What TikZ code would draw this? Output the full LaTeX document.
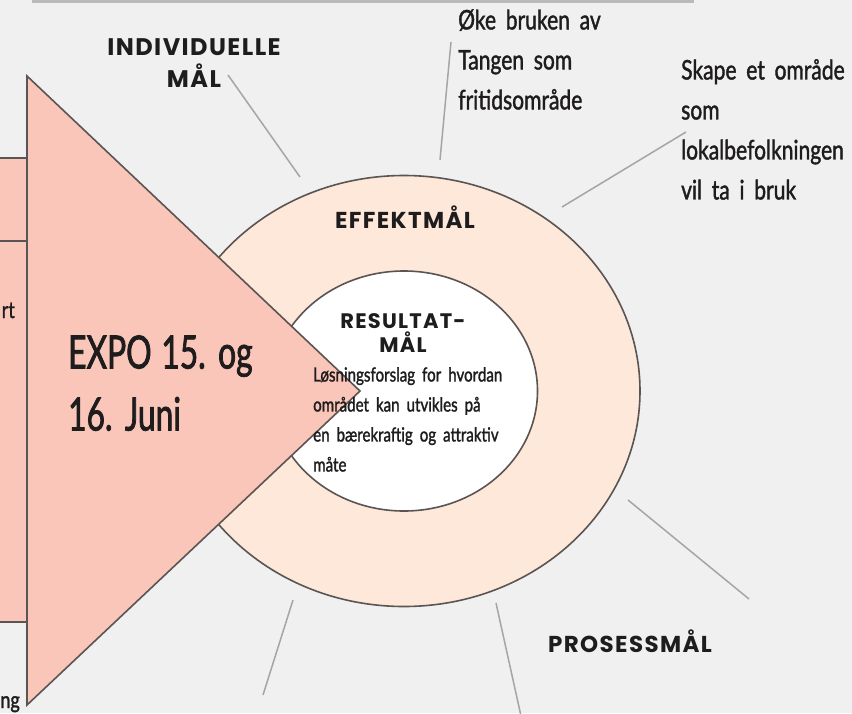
\documentclass[tikz,border=0pt]{standalone}
\usepackage{fontspec}
\usetikzlibrary{positioning}
\newfontfamily\gillfont[FakeStretch=0.78,WordSpace=1.8,FakeBold=1.4]{Lato}
\newfontfamily\expofont[FakeStretch=0.69,WordSpace=1.2,FakeBold=1.6]{Lato}
\newfontfamily\capsfont[LetterSpace=6]{Poppins}

\definecolor{bggray}{RGB}{240,240,240}
\definecolor{bargray}{RGB}{186,186,186}
\definecolor{salmon}{RGB}{249,198,185}
\definecolor{peach}{RGB}{253,232,217}
\definecolor{edgegray}{RGB}{90,84,82}
\definecolor{leadgray}{RGB}{165,165,165}
\definecolor{ink}{RGB}{30,28,28}

\begin{document}
\begin{tikzpicture}[x=1pt, y=-1pt,
    edge/.style={draw=edgegray, line width=1.6pt},
    leader/.style={draw=leadgray, line width=1.5pt},
    caps/.style={font=\capsfont\bfseries\fontsize{23}{32}\selectfont, text=ink, align=center, inner sep=0pt},
    body/.style={font=\gillfont\fontsize{27}{40}\selectfont, text=ink, align=left, inner sep=0pt},
    small/.style={font=\gillfont\fontsize{19.4}{30}\selectfont, text=ink, align=left, inner sep=0pt}]

    %background
    \fill [bggray] (0,0) rectangle (852,713);
    \useasboundingbox (0,0) rectangle (852,713);
    \fill [bargray] (32,-4) rectangle (694,2.5);

    %boxes on the left
    \filldraw [fill=salmon, edge] (-3,158) rectangle (27,622);
    \draw [edge] (-3,241) -- (27,241);

    %rings
    \filldraw [fill=peach, edge] (404,391) ellipse [x radius=236, y radius=215.5];
    \filldraw [fill=white, edge] (404,391) ellipse [x radius=133.5, y radius=120];

    %arrow
    \filldraw [fill=salmon, edge] (27,76) -- (360,391) -- (27,705) -- cycle;

    %nodes
    \node [caps, font=\capsfont\bfseries\fontsize{24}{32}\selectfont] (indiv) at (194,63) {INDIVIDUELLE\\MÅL};
    \node [caps] (effekt) at (405,217.5) {EFFEKTMÅL};
    \node [caps, font=\capsfont\bfseries\fontsize{21}{24}\selectfont] (resultat) at (403,333) {RESULTAT-\\MÅL};
    \node [caps] (prosess) at (630,641) {PROSESSMÅL};

    \node [body, anchor=north west] (oke) at (458,9) {Øke bruken av\\Tangen som\\fritidsområde};
    \node [body, anchor=north west] (skape) at (681,59) {Skape et område\\som\\lokalbefolkningen\\vil ta i bruk};
    \node [small, anchor=north west] (losning) at (313,367) {Løsningsforslag for hvordan\\området kan utvikles på\\en bærekraftig og attraktiv\\måte};
    \node [font=\expofont\fontsize{46}{62}\selectfont, text=ink, align=left, inner sep=0pt, anchor=north west] (expo) at (68,335) {EXPO 15. og\\16. Juni};
    \node [small, font=\gillfont\fontsize{23}{30}\selectfont, anchor=base east] (rt) at (15,318) {rt};
    \node [small, font=\gillfont\fontsize{23}{30}\selectfont, anchor=base east] (ng) at (20,708) {ng};

    %leader lines
    \coordinate (indiv-start) at (228,75);
    \coordinate (indiv-end) at (300,177);
    \coordinate (oke-start) at (451,42);
    \coordinate (oke-end) at (440,160);
    \coordinate (skape-start) at (686,132);
    \coordinate (skape-end) at (562,207);
    \coordinate (ring-se) at (628,500);
    \coordinate (ring-se-out) at (749,599);
    \coordinate (ring-s) at (496,603);
    \coordinate (ring-s-out) at (521,716);
    \coordinate (ring-sw) at (293,600);
    \coordinate (ring-sw-out) at (263,695);
    \draw [leader] (indiv-start) -- (indiv-end);
    \draw [leader] (oke-start) -- (oke-end);
    \draw [leader] (skape-start) -- (skape-end);
    \draw [leader] (ring-se) -- (ring-se-out);
    \draw [leader] (ring-s) -- (ring-s-out);
    \draw [leader] (ring-sw) -- (ring-sw-out);

\end{tikzpicture}
\end{document}
